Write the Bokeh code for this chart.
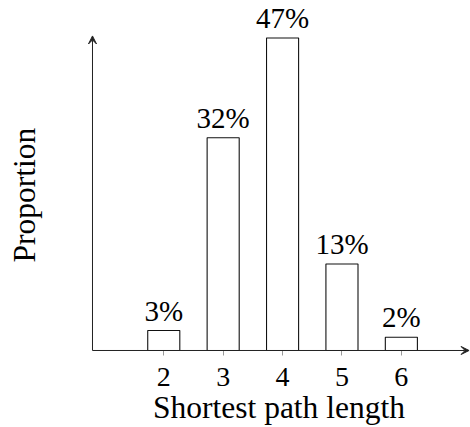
from bokeh.plotting import figure
from bokeh.models import (Range1d, Arrow, VeeHead, LabelSet, FixedTicker,
                          ColumnDataSource, Title, LinearAxis)
from bokeh.embed import file_html
from bokeh.resources import INLINE

# data
lengths = [2, 3, 4, 5, 6]
proportions = [3, 32, 47, 13, 2]          # percent
tick_labels = ["2", "3", "4", "5", "6"]
x_title = "Shortest path length"
y_title = "Proportion"

FONT = "Liberation Serif"
AX = "#222222"
X_AXIS_AT = 0.8      # where the vertical axis crosses (data x)

src = ColumnDataSource(dict(x=lengths, top=proportions,
                            label=[f"{v}%" for v in proportions]))

p = figure(width=470, height=427, output_backend="svg", toolbar_location=None,
           x_range=Range1d(0.716, 7.164), y_range=Range1d(-0.752, 52.63),
           y_axis_location=None,
           min_border_left=87, min_border_right=0, min_border_top=0,
           min_border_bottom=72)
p.outline_line_color = None
p.grid.visible = False
p.background_fill_color = "white"

p.vbar(x="x", top="top", bottom=0, width=0.54, source=src, fill_color="white",
       line_color="#111111", line_width=1.1)

p.add_layout(LabelSet(x="x", y="top", text="label", source=src,
                      text_font=FONT, text_font_size="29px",
                      text_align="center", text_baseline="alphabetic",
                      y_offset=10, text_color="black"))

# x axis (line drawn by the arrow; ticks point up to the arrow line)
xa = p.xaxis[0]
xa.ticker = FixedTicker(ticks=lengths)
xa.major_label_overrides = {l: t for l, t in zip(lengths, tick_labels)}
xa.axis_line_color = None
xa.major_tick_in = 5
xa.major_tick_out = 0
xa.major_tick_line_color = "#999999"
xa.minor_tick_line_color = None
xa.major_label_standoff = 12
xa.major_label_text_font = FONT
xa.major_label_text_font_size = "28px"
xa.major_label_text_color = "black"
xa.axis_label = x_title
xa.axis_label_text_font = FONT
xa.axis_label_text_font_size = "31.5px"
xa.axis_label_text_font_style = "normal"
xa.axis_label_text_color = "black"
xa.axis_label_standoff = 1

# blank left axis that only reserves room between the frame and the y title
ya = LinearAxis(ticker=FixedTicker(ticks=[0]), axis_line_color=None,
                major_tick_line_color="white", minor_tick_line_color=None,
                major_tick_out=46, major_tick_in=0, major_label_standoff=0,
                major_label_overrides={0: ""})
p.add_layout(ya, "left")
p.add_layout(Title(text=y_title, align="left", offset=93, standoff=0,
                   text_font=FONT, text_font_size="31.5px",
                   text_font_style="normal", text_color="black"), "left")

ymax = max(proportions)
p.add_layout(Arrow(end=VeeHead(size=8, line_color=AX, fill_color=AX, line_width=1),
                   x_start=X_AXIS_AT, y_start=0, x_end=7.14, y_end=0,
                   line_color=AX, line_width=1))
p.add_layout(Arrow(end=VeeHead(size=8, line_color=AX, fill_color=AX, line_width=1),
                   x_start=X_AXIS_AT, y_start=0, x_end=X_AXIS_AT, y_end=ymax + 0.3,
                   line_color=AX, line_width=1))

open("out.html", "w").write(file_html(p, INLINE))
